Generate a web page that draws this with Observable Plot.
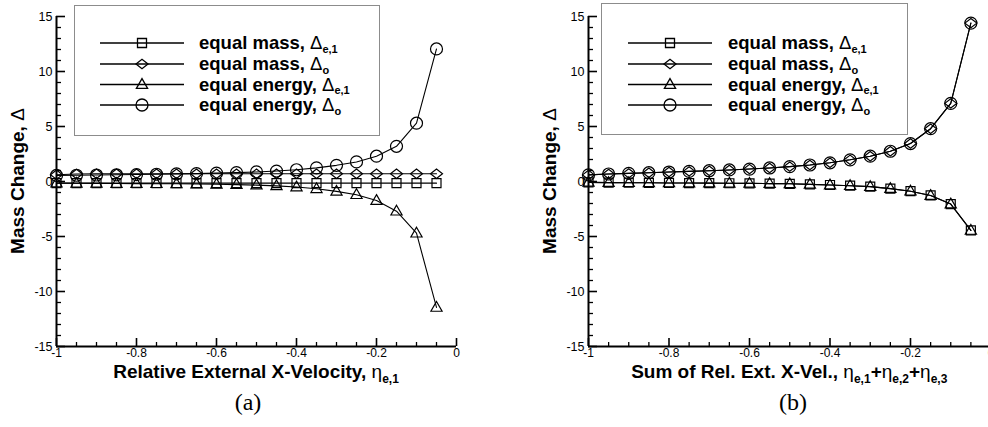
<!DOCTYPE html>
<html>
<head>
<meta charset="utf-8">
<script src="https://cdn.jsdelivr.net/npm/d3@7"></script>
<script src="https://cdn.jsdelivr.net/npm/@observablehq/plot@0.6"></script>
<style>
  html, body { margin: 0; padding: 0; background: white; }
  body { width: 988px; height: 427px; overflow: hidden; position: relative; }
  .panel { position: absolute; top: 0; }
  .panel svg { max-width: none !important; overflow: visible; }
</style>
</head>
<body>
<div id="pa" class="panel" style="left:0px;width:532px"></div>
<div id="pb" class="panel" style="left:532px;width:470px"></div>
<script>
// ---------- data ----------
const eta = [-1, -0.95, -0.9, -0.85, -0.8, -0.75, -0.7, -0.65, -0.6, -0.55, -0.5, -0.45, -0.4, -0.35, -0.3, -0.25, -0.2, -0.15, -0.1, -0.05];

// panel (a)
const aMassE1   = [-0.15, -0.15, -0.15, -0.15, -0.15, -0.15, -0.15, -0.15, -0.15, -0.15, -0.15, -0.15, -0.15, -0.15, -0.15, -0.15, -0.15, -0.15, -0.15, -0.15];
const aMassO    = [0.62, 0.68, 0.7, 0.7, 0.7, 0.7, 0.7, 0.7, 0.7, 0.7, 0.7, 0.7, 0.7, 0.7, 0.7, 0.7, 0.7, 0.7, 0.7, 0.7];
const aEnergyE1 = [-0.15, -0.16, -0.17, -0.18, -0.19, -0.2, -0.21, -0.23, -0.25, -0.28, -0.33, -0.4, -0.5, -0.66, -0.9, -1.2, -1.73, -2.7, -4.7, -11.45];
const aEnergyO  = [0.55, 0.57, 0.59, 0.61, 0.63, 0.66, 0.69, 0.72, 0.76, 0.81, 0.87, 0.95, 1.07, 1.24, 1.47, 1.78, 2.3, 3.2, 5.3, 12.05];

// panel (b)
const bMassE1   = [-0.08, -0.1, -0.11, -0.12, -0.13, -0.14, -0.15, -0.16, -0.17, -0.19, -0.21, -0.26, -0.32, -0.38, -0.47, -0.65, -0.88, -1.27, -2.05, -4.45];
const bMassO    = [0.6, 0.68, 0.74, 0.8, 0.86, 0.92, 0.98, 1.05, 1.13, 1.23, 1.35, 1.5, 1.7, 1.97, 2.3, 2.75, 3.45, 4.8, 7.1, 14.4];
const bEnergyE1 = [-0.08, -0.1, -0.11, -0.12, -0.13, -0.14, -0.15, -0.16, -0.17, -0.19, -0.21, -0.26, -0.32, -0.38, -0.47, -0.65, -0.88, -1.27, -2.05, -4.45];
const bEnergyO  = [0.6, 0.68, 0.74, 0.8, 0.86, 0.92, 0.98, 1.05, 1.13, 1.23, 1.35, 1.5, 1.7, 1.97, 2.3, 2.75, 3.45, 4.8, 7.1, 14.4];

// ticks
const xMajor = [-1, -0.8, -0.6, -0.4, -0.2, 0];
const xMinor = [-0.95, -0.9, -0.85, -0.75, -0.7, -0.65, -0.55, -0.5, -0.45, -0.35, -0.3, -0.25, -0.15, -0.1, -0.05];
const yMajor = [-15, -10, -5, 0, 5, 10, 15];
const yMinor = [-14, -13, -12, -11, -9, -8, -7, -6, -4, -3, -2, -1, 1, 2, 3, 4, 6, 7, 8, 9, 11, 12, 13, 14];

// legend labels
const legendNames = ["equal mass, ", "equal mass, ", "equal energy, ", "equal energy, "];
const legendSubs = ["e,1", "o", "e,1", "o"];

// ---------- symbols ----------
const half = size => Math.sqrt(size / Math.PI);
const symSquare = { draw(c, s) { const r = half(s); c.rect(-r, -r, 2 * r, 2 * r); } };
const symDiamond = { draw(c, s) { const r = half(s), h = r * 0.78; c.moveTo(-r, 0); c.lineTo(0, -h); c.lineTo(r, 0); c.lineTo(0, h); c.closePath(); } };
const symTriangle = { draw(c, s) { const r = half(s); c.moveTo(0, -r * 1.05); c.lineTo(r, r * 0.68); c.lineTo(-r, r * 0.68); c.closePath(); } };
const symbols = [symSquare, symDiamond, symTriangle, "circle"];
const radii = [4.5, 6, 5.6, 6];

const FONT = "'Liberation Sans', Arial, Helvetica, sans-serif";

function panel(el, cfg) {
  const marginLeft = 56, marginTop = 16, H = 330, height = 427;
  const plotW = cfg.plotW;
  const width = cfg.width;
  const marginRight = width - marginLeft - plotW;
  const marks = [
    Plot.tickY(yMinor, { y: d => d, insetRight: plotW - 5, stroke: "black", strokeWidth: 1.3 }),
    Plot.tickY(yMajor, { y: d => d, insetRight: plotW - 9, stroke: "black", strokeWidth: 1.6 }),
    Plot.tickX(xMinor, { x: d => d, insetTop: H - 4, stroke: "black", strokeWidth: 1.3 }),
    Plot.tickX(xMajor, { x: d => d, insetTop: H - 8, stroke: "black", strokeWidth: 1.6 }),
    Plot.ruleX([-1], { stroke: "black", strokeWidth: 2 }),
    Plot.ruleY([-15], { stroke: "black", strokeWidth: 2 }),
    Plot.axisY({ ticks: yMajor, tickSize: 0, tickPadding: 4, tickFormat: d => String(d), fontSize: 12.5, label: null }),
    Plot.axisX({ ticks: xMajor, tickSize: 0, tickPadding: 2, tickFormat: d => String(d), fontSize: 12, label: null })
  ];
  cfg.series.forEach((vals, i) => {
    marks.push(Plot.line(eta, { x: d => d, y: vals, stroke: "black", strokeWidth: 1.1 }));
  });
  cfg.series.forEach((vals, i) => {
    marks.push(Plot.dot(eta, { x: d => d, y: vals, symbol: symbols[i], r: radii[i], stroke: "black", fill: "none", strokeWidth: 1.2 }));
  });
  const svg = Plot.plot({
    width, height, marginLeft, marginRight, marginTop, marginBottom: height - marginTop - H,
    x: { domain: [-1, 0] },
    y: { domain: [-15, 15] },
    style: { fontFamily: FONT, fontSize: "12px", color: "black", background: "white", overflow: "visible" },
    marks
  });
  el.appendChild(svg);
  const s = d3.select(svg);
  const cx = marginLeft + plotW / 2;

  // y title
  const yt = s.append("text")
    .attr("transform", `translate(${cfg.yTitleX},${marginTop + H / 2}) rotate(-90)`)
    .attr("text-anchor", "middle").attr("font-family", FONT).attr("font-size", 19).attr("font-weight", "bold").attr("fill", "black");
  yt.append("tspan").text("Mass Change, ");
  yt.append("tspan").attr("font-weight", "normal").text("Δ");

  // x title
  const xt = s.append("text").attr("x", cx).attr("y", 378)
    .attr("text-anchor", "middle").attr("font-family", FONT).attr("font-size", 19).attr("font-weight", "bold").attr("fill", "black");
  xt.append("tspan").text(cfg.xTitle);
  cfg.etaSubs.forEach((sub, k) => {
    if (k > 0) xt.append("tspan").attr("dy", -5).text("+");
    xt.append("tspan").attr("font-weight", "normal").text("η");
    xt.append("tspan").attr("font-size", 12).attr("dy", 5).text(sub);
  });

  // panel label
  s.append("text").attr("x", cfg.labelX).attr("y", 410).attr("text-anchor", "middle")
    .attr("font-family", "'Liberation Serif', 'Times New Roman', serif").attr("font-size", 24).attr("fill", "black").text(cfg.label);

  // legend
  const L = cfg.legend;
  const g = s.append("g").attr("text-anchor", "start");
  g.append("rect").attr("x", L.x0 + 0.5).attr("y", L.y0 + 0.5).attr("width", L.w).attr("height", L.h)
    .attr("fill", "white").attr("stroke", "#8c8c8c").attr("stroke-width", 1);
  const rows = [43, 64, 84.5, 105];
  rows.forEach((ry, i) => {
    g.append("line").attr("x1", L.lx1).attr("x2", L.lx2).attr("y1", ry).attr("y2", ry).attr("stroke", "black").attr("stroke-width", 1.6);
    const sym = symbols[i] === "circle" ? d3.symbolCircle : symbols[i];
    g.append("path").attr("transform", `translate(${(L.lx1 + L.lx2) / 2},${ry})`)
      .attr("d", d3.symbol(sym, radii[i] * radii[i] * Math.PI)())
      .attr("fill", "none").attr("stroke", "black").attr("stroke-width", 1.3);
    const t = g.append("text").attr("x", L.tx).attr("y", ry + 6).attr("text-anchor", "start")
      .attr("font-family", FONT).attr("font-size", 18.5).attr("font-weight", "bold").attr("fill", "black");
    t.append("tspan").text(legendNames[i]);
    t.append("tspan").attr("font-weight", "normal").text("Δ");
    t.append("tspan").attr("font-size", 11).attr("dy", 3.5).text(legendSubs[i]);
  });
}

panel(document.getElementById("pa"), {
  width: 532, plotW: 400,
  series: [aMassE1, aMassO, aEnergyE1, aEnergyO],
  xTitle: "Relative External X-Velocity, ",
  etaSubs: ["e,1"],
  label: "(a)", labelX: 248, yTitleX: 24,
  legend: { x0: 74, y0: 5, w: 305, h: 130, lx1: 100, lx2: 184, tx: 199 }
});

panel(document.getElementById("pb"), {
  width: 470, plotW: 402.5,
  series: [bMassE1, bMassO, bEnergyE1, bEnergyO],
  xTitle: "Sum of Rel. Ext. X-Vel., ",
  etaSubs: ["e,1", "e,2", "e,3"],
  label: "(b)", labelX: 261, yTitleX: 24,
  legend: { x0: 69, y0: 3, w: 306, h: 131, lx1: 96, lx2: 180, tx: 196 }
});
</script>
</body>
</html>
